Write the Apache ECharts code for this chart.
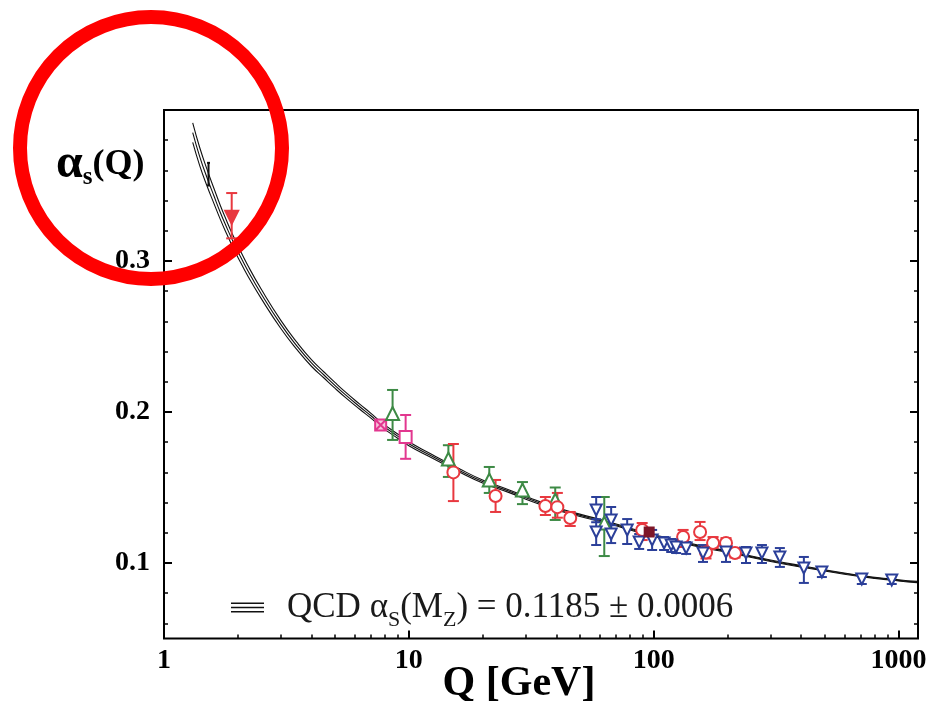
<!DOCTYPE html>
<html>
<head>
<meta charset="utf-8">
<title>Running coupling</title>
<script src="https://cdn.jsdelivr.net/npm/echarts@6/dist/echarts.min.js"></script>
<style>
  html, body { margin: 0; padding: 0; background: #fff; }
  #chart { width: 937px; height: 701px; }
</style>
</head>
<body>
<div id="chart"></div>
<script>
const SERIF = '"Liberation Serif", "DejaVu Serif", "Times New Roman", serif';

// QCD running coupling: central curve and the edges of its uncertainty band
const curveQ   = [1.31, 1.4, 1.5, 1.6, 1.7, 1.8, 1.9, 2.0, 2.2, 2.5, 3.0, 3.5, 4.0, 4.5, 5.0, 5.5, 6.3, 7.0, 7.67, 9.0, 10, 12, 16, 20, 25.7, 32, 41, 56, 66, 80, 91.2, 110, 150, 200, 300, 410, 600, 800, 1000, 1190];
const curveMid = [0.385, 0.369, 0.355, 0.343, 0.332, 0.3225, 0.314, 0.3065, 0.2935, 0.278, 0.258, 0.2435, 0.2325, 0.2245, 0.2175, 0.2115, 0.2035, 0.1975, 0.192, 0.184, 0.179, 0.172, 0.1615, 0.154, 0.1475, 0.1415, 0.1355, 0.1295, 0.1265, 0.1225, 0.1198, 0.1165, 0.1115, 0.1075, 0.1015, 0.0975, 0.0930, 0.0902, 0.0885, 0.0874];
const curveUp  = [0.3915, 0.375, 0.3605, 0.348, 0.3366, 0.3268, 0.318, 0.3103, 0.297, 0.2811, 0.2607, 0.2459, 0.2347, 0.2265, 0.2194, 0.2133, 0.2052, 0.1991, 0.1935, 0.1854, 0.1803, 0.1732, 0.1626, 0.155, 0.1484, 0.1424, 0.1363, 0.1302, 0.1272, 0.1232, 0.1204, 0.1171, 0.1121, 0.108, 0.102, 0.098, 0.0934, 0.0906, 0.0889, 0.0878];
const curveLo  = [0.3785, 0.363, 0.3495, 0.338, 0.3274, 0.3182, 0.310, 0.3027, 0.290, 0.2749, 0.2553, 0.2411, 0.2303, 0.2225, 0.2156, 0.2097, 0.2018, 0.1959, 0.1905, 0.1826, 0.1777, 0.1708, 0.1604, 0.153, 0.1466, 0.1406, 0.1347, 0.1288, 0.1258, 0.1218, 0.1192, 0.1159, 0.1109, 0.107, 0.101, 0.097, 0.0926, 0.0898, 0.0881, 0.087];

// Measurements: scale Q [GeV], alpha_s, lower and upper ends of the error bar
const tauQ = [1.89], tauA = [0.329], tauLo = [0.315], tauHi = [0.345];
const blkQ = [1.52], blkA = [0.357], blkLo = [0.350], blkHi = [0.365];

const pinkXQ = [7.67], pinkXA = [0.1914], pinkXLo = [0.1885], pinkXHi = [0.194];
const pinkQ  = [9.7],  pinkA  = [0.1834], pinkLo  = [0.169],  pinkHi  = [0.198];

const greenQ  = [8.58, 14.5, 21.3, 29.1, 39.6, 62.8];
const greenA  = [0.199, 0.1689, 0.155, 0.1483, 0.1417, 0.1265];
const greenLo = [0.1815, 0.157, 0.1464, 0.139, 0.1285, 0.1046];
const greenHi = [0.2146, 0.178, 0.1636, 0.1536, 0.150, 0.1437];

const redQ  = [15.2, 22.6, 36.1, 40.4, 45.6, 89.7, 131.8, 154.6, 163.5, 174.7, 197.3, 214.7];
const redA  = [0.160, 0.1444, 0.1377, 0.137, 0.1298, 0.1219, 0.1172, 0.1205, 0.107, 0.1132, 0.1132, 0.1066];
const redLo = [0.141, 0.1338, 0.1318, 0.130, 0.1245, 0.1152, 0.1106, 0.1152, 0.103, 0.110, 0.110, 0.1036];
const redHi = [0.1788, 0.155, 0.1437, 0.1464, 0.1338, 0.1265, 0.1219, 0.1272, 0.111, 0.1172, 0.1165, 0.110];

const darkQ = [95.8], darkA = [0.1205];

const blueQ  = [58.2, 58.2, 67.0, 67.0, 77.9, 87.2, 98.5, 110.2, 117.8, 123.4, 135.6, 158.9, 197.3, 238.1, 276.6, 327.4, 410.3, 486, 707.4, 937.5];
const blueA  = [0.1351, 0.1205, 0.1285, 0.1192, 0.1219, 0.1139, 0.1152, 0.1132, 0.1119, 0.1106, 0.1099, 0.1066, 0.1073, 0.1066, 0.1066, 0.104, 0.0967, 0.094, 0.0894, 0.0887];
const blueLo = [0.127, 0.1119, 0.122, 0.1132, 0.1126, 0.1093, 0.1086, 0.1086, 0.1073, 0.1066, 0.106, 0.1007, 0.1007, 0.100, 0.100, 0.0974, 0.0868, 0.0907, 0.0861, 0.0861];
const blueHi = [0.1437, 0.129, 0.1371, 0.125, 0.1291, 0.1192, 0.1219, 0.1172, 0.1159, 0.1146, 0.1139, 0.1119, 0.1132, 0.1106, 0.1119, 0.1099, 0.104, 0.0967, 0.0927, 0.092];

// Axis ticks
const xMajor = [1, 10, 100, 1000];
const xMinor = [2, 3, 4, 5, 6, 7, 8, 9, 20, 30, 40, 50, 60, 70, 80, 90, 200, 300, 400, 500, 600, 700, 800, 900];
const yMajor = [0.1, 0.2, 0.3];
const yMinor = [0.06, 0.08, 0.12, 0.14, 0.16, 0.18, 0.22, 0.24, 0.26, 0.28, 0.32, 0.34, 0.36, 0.38];

const C_RED = '#e8383f', C_GREEN = '#3d8a45', C_BLUE = '#2b3f99', C_PINK = '#e2378f', C_DARK = '#7e1628';

const zip = (...cols) => cols[0].map((_, i) => cols.map(c => c[i]));

function errorBars(color, capHalf, width) {
  return function (params, api) {
    const q = api.value(0);
    const top = api.coord([q, api.value(3)]);
    const bot = api.coord([q, api.value(2)]);
    const style = { stroke: color, lineWidth: width, fill: null };
    return {
      type: 'group',
      children: [
        { type: 'line', shape: { x1: top[0], y1: top[1], x2: bot[0], y2: bot[1] }, style },
        { type: 'line', shape: { x1: top[0] - capHalf, y1: top[1], x2: top[0] + capHalf, y2: top[1] }, style },
        { type: 'line', shape: { x1: bot[0] - capHalf, y1: bot[1], x2: bot[0] + capHalf, y2: bot[1] }, style }
      ]
    };
  };
}

function barSeries(q, a, lo, hi, color, capHalf, width) {
  return {
    type: 'custom', silent: true, z: 3,
    renderItem: errorBars(color, capHalf, width || 2),
    encode: { x: 0, y: [1, 2, 3] },
    data: zip(q, a, lo, hi)
  };
}

function markSeries(q, a, symbol, size, fill, stroke, rotate) {
  return {
    type: 'scatter', silent: true, z: 4,
    symbol, symbolSize: size, symbolRotate: rotate || 0,
    itemStyle: { color: fill, borderColor: stroke, borderWidth: 2, opacity: 1 },
    data: zip(q, a)
  };
}

function bandLine(name, values) {
  return {
    type: 'line', name, smooth: true, showSymbol: false, silent: true, z: 2,
    lineStyle: { color: '#111', width: 1.1 },
    itemStyle: { color: '#111' },
    data: zip(curveQ, values)
  };
}

const tickFont = { fontFamily: SERIF, fontWeight: 'bold', fontSize: 28, color: '#000' };

const chart = echarts.init(document.getElementById('chart'), null, { renderer: 'canvas' });

chart.setOption({
  animation: false,
  backgroundColor: '#fff',
  grid: { left: 164, right: 19, top: 110, bottom: 62.5, show: true, borderColor: '#000', borderWidth: 2 },
  xAxis: [
    {
      type: 'log', logBase: 10, min: 1, max: 1200, position: 'bottom',
      axisLine: { show: false }, splitLine: { show: false },
      axisTick: { inside: true, length: 8, lineStyle: { color: '#000', width: 2 }, customValues: xMajor },
      axisLabel: Object.assign({ customValues: xMajor, margin: 8, formatter: v => String(Math.round(v)) }, tickFont)
    },
    {
      type: 'log', logBase: 10, min: 1, max: 1200, position: 'bottom',
      axisLine: { show: false }, splitLine: { show: false },
      axisTick: { inside: true, length: 4, lineStyle: { color: '#000', width: 1.5 }, customValues: xMinor },
      axisLabel: { show: false }
    }
  ],
  yAxis: [
    {
      type: 'value', min: 0.05, max: 0.4, position: 'left',
      axisLine: { show: false }, splitLine: { show: false },
      axisTick: { inside: true, length: 8, lineStyle: { color: '#000', width: 2 }, customValues: yMajor },
      axisLabel: Object.assign({ customValues: yMajor, margin: 14, formatter: v => v.toFixed(1) }, tickFont)
    },
    {
      type: 'value', min: 0.05, max: 0.4, position: 'left',
      axisLine: { show: false }, splitLine: { show: false },
      axisTick: { inside: true, length: 4, lineStyle: { color: '#000', width: 1.5 }, customValues: yMinor },
      axisLabel: { show: false }
    },
    {
      type: 'value', min: 0.05, max: 0.4, position: 'right',
      axisLine: { show: false }, splitLine: { show: false },
      axisTick: { inside: true, length: 8, lineStyle: { color: '#000', width: 2 }, customValues: yMajor },
      axisLabel: { show: false }
    },
    {
      type: 'value', min: 0.05, max: 0.4, position: 'right',
      axisLine: { show: false }, splitLine: { show: false },
      axisTick: { inside: true, length: 4, lineStyle: { color: '#000', width: 1.5 }, customValues: yMinor },
      axisLabel: { show: false }
    }
  ],
  legend: {
    data: ['QCD'],
    left: 226, top: 585,
    icon: 'path://M0,0H33V1.6H0Z M0,4.2H33V5.8H0Z M0,8.4H33V10H0Z',
    itemWidth: 33, itemHeight: 10,
    selectedMode: false,
    formatter: () => '{p| }{t|QCD }{t|α}{sb|S}{t|(M}{sb|Z}{t|) = 0.1185 ± 0.0006}',
    textStyle: {
      rich: {
        p: { width: 18 },
        t: { fontFamily: SERIF, fontSize: 35, color: '#1a1a1a', lineHeight: 40, verticalAlign: 'middle' },
        sb: { fontFamily: SERIF, fontSize: 22, color: '#1a1a1a', lineHeight: 48, verticalAlign: 'bottom' }
      }
    }
  },
  graphic: [
    {
      type: 'text', x: 56, y: 165, z: 10, silent: true,
      style: {
        text: '{a|α}{s|s}{b|(Q)}',
        align: 'left', verticalAlign: 'middle',
        rich: {
          a: { fontFamily: SERIF, fontWeight: 'bold', fontSize: 48, lineHeight: 40, verticalAlign: 'middle', fill: '#000' },
          s: { fontFamily: SERIF, fontWeight: 'bold', fontSize: 25, lineHeight: 50, verticalAlign: 'bottom', fill: '#000' },
          b: { fontFamily: SERIF, fontWeight: 'bold', fontSize: 36, lineHeight: 40, verticalAlign: 'middle', fill: '#000' }
        }
      }
    },
    {
      type: 'text', x: 519, y: 684, z: 10, silent: true,
      style: { text: 'Q [GeV]', align: 'center', verticalAlign: 'middle', fontFamily: SERIF, fontWeight: 'bold', fontSize: 42, fill: '#000' }
    },
    {
      type: 'circle', z: 100, silent: true,
      shape: { cx: 151, cy: 148, r: 131 },
      style: { fill: null, stroke: '#ff0000', lineWidth: 14 }
    }
  ],
  series: [
    bandLine('QCD', curveMid),
    bandLine('QCD upper', curveUp),
    bandLine('QCD lower', curveLo),

    barSeries(blkQ, blkA, blkLo, blkHi, '#111', 1.5, 2),
    barSeries(tauQ, tauA, tauLo, tauHi, C_RED, 5.5, 2),
    barSeries(pinkXQ, pinkXA, pinkXLo, pinkXHi, C_PINK, 4, 2),
    barSeries(pinkQ, pinkA, pinkLo, pinkHi, C_PINK, 5.5, 2),
    barSeries(greenQ, greenA, greenLo, greenHi, C_GREEN, 5.5, 2),
    barSeries(redQ, redA, redLo, redHi, C_RED, 5.5, 2),
    barSeries(blueQ, blueA, blueLo, blueHi, C_BLUE, 5, 2),

    markSeries(tauQ, tauA, 'triangle', 13, C_RED, C_RED, 180),
    markSeries(pinkXQ, pinkXA, 'path://M0,0H10V10H0Z M0,0L10,10 M10,0L0,10', 11, '#f6c4dc', C_PINK),
    markSeries(pinkQ, pinkA, 'rect', 12, '#fff', C_PINK),
    markSeries(greenQ, greenA, 'triangle', 13, '#fff', C_GREEN),
    markSeries(redQ, redA, 'circle', 12, '#fff', C_RED),
    markSeries(blueQ, blueA, 'triangle', 11, '#fff', C_BLUE, 180),
    markSeries(darkQ, darkA, 'rect', 9, C_DARK, C_DARK)
  ]
});
</script>
</body>
</html>
